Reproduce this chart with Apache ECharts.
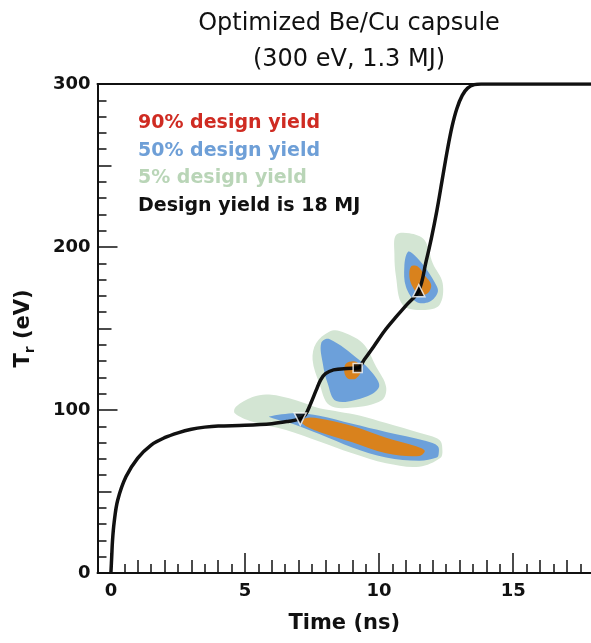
<!DOCTYPE html>
<html>
<head>
<meta charset="utf-8">
<script src="https://cdn.jsdelivr.net/npm/echarts@6/dist/echarts.min.js"></script>
<style>
html,body{margin:0;padding:0;background:#fff;}
#chart{width:591px;height:643px;}
</style>
</head>
<body>
<div id="chart"></div>
<script>
// ---- Data ----
const titleText = 'Optimized Be/Cu capsule\n(300 eV, 1.3 MJ)';
const xName = 'Time (ns)';
const legendLabels = ['90% design yield', '50% design yield', '5% design yield', 'Design yield is 18 MJ'];
const legendColors = ['#cf2b22', '#6e9fd7', '#b9d5b7', '#111111'];

const xMajorTicks = [0, 5, 10, 15];
const xMidTicks = [1, 2, 3, 4, 6, 7, 8, 9, 11, 12, 13, 14, 16, 17];
const xMinorTicks = [0.5, 1.5, 2.5, 3.5, 4.5, 5.5, 6.5, 7.5, 8.5, 9.5, 10.5, 11.5, 12.5, 13.5, 14.5, 15.5, 16.5, 17.5];
const yMajorTicks = [0, 100, 200, 300];

// drive temperature curve: time (ns) and Tr (eV)
const curveTime = [0, 0.03, 0.06, 0.12, 0.25, 0.56, 1.0, 1.5, 2.0, 2.5, 3.0, 3.5, 4.0, 5.0, 6.0, 6.6, 7.06, 7.25, 7.45, 7.65, 7.82, 8.0, 8.3, 8.8, 9.2, 9.45, 9.8, 10.2, 10.6, 11.0, 11.48, 11.75, 11.95, 12.15, 12.35, 12.55, 12.72, 12.9, 13.1, 13.3, 13.55, 13.8, 17.9];
const curveTemp = [0, 10, 20, 31, 44.5, 59, 70.5, 78.5, 83, 86, 88.2, 89.5, 90.2, 90.6, 91.6, 93, 94.5, 97, 104, 112, 118.5, 122.3, 124.6, 125.5, 125.7, 131, 139, 148.5, 156.5, 164, 173.2, 191, 205.5, 222, 241, 260, 274, 285, 293, 297.5, 299.6, 300, 300];

const markerDown = [[7.06, 94.5]];
const markerSquare = [[9.2, 125.7]];
const markerUp = [[11.48, 173.2]];

// yield regions: outlines in (time ns, Tr eV)
const green5Lower = [[4.66,102],[5.28,108],[5.9,109.5],[6.9,106],[7.77,101],[8.5,99],[9.3,96.5],[10.26,92],[11.5,86],[12.25,81.6],[12.36,75],[12.28,70.5],[11.5,65.2],[10.26,67.3],[9.0,73.4],[7.77,80.6],[6.53,87.7],[5.28,92.8],[4.62,98]];
const green5Middle = [[7.65,141],[8.14,148],[8.52,148.5],[9.39,141],[9.89,126.6],[10.26,114.3],[10.1,106],[9.0,101.5],[8.14,103],[7.77,116.4],[7.52,130.7]];
const green5Upper = [[10.63,207.4],[11.13,208.4],[11.69,204.3],[12.0,190],[12.37,177.7],[12.25,164.4],[11.63,161.3],[10.88,164.4],[10.63,181.8],[10.57,196]];
const blue50Lower = [[5.9,96],[6.9,98],[7.77,96.5],[9.0,91.5],[10.26,86.5],[11.75,81],[12.19,77.8],[12.22,73],[12.15,70.8],[11.5,68.8],[10.26,70.8],[9.0,77],[7.77,85.2],[6.9,90.8],[6.03,94.9]];
const blue50Middle = [[7.84,141],[8.14,143.5],[9.26,130.7],[9.76,122.5],[10.0,114.3],[9.51,108.2],[8.4,105.5],[8.08,116.4],[7.9,128.6]];
const blue50Upper = [[11.07,197],[11.32,195],[11.69,188],[12.06,178.7],[12.19,172.6],[11.88,166.4],[11.38,166.4],[11.0,175.6],[10.94,188]];
const orange90Lower = [[7.25,95],[7.77,94.8],[9.0,90.2],[10.26,83],[11.38,77.8],[11.7,75],[11.5,71.8],[10.26,73.5],[9.0,80.2],[7.77,86.5],[7.15,91.5]];
const orange90Middle = [[8.77,128.6],[9.14,129.6],[9.33,124.5],[9.14,119.4],[8.83,119.4],[8.7,123.5]];
const orange90Upper = [[11.19,188],[11.44,188],[11.69,182.8],[11.94,176.7],[11.81,171.6],[11.5,170.6],[11.25,175.6],[11.13,181.8]];

// ---- Chart ----
const FONT = 'DejaVu Sans';
const INK = '#111';
const GREEN = '#d3e5d3', BLUE = '#6ca0da', ORANGE = '#d9821d';

function region(name, pts, color, z) {
  return {
    type: 'custom', name, coordinateSystem: 'cartesian2d', xAxisIndex: 0, yAxisIndex: 0,
    data: pts, z, silent: true, clip: true,
    renderItem: function (params, api) {
      if (params.dataIndex !== 0) return null;
      const points = pts.map(p => api.coord(p));
      return { type: 'polygon', shape: { points, smooth: 0.35 }, style: { fill: color } };
    }
  };
}

const xBase = { type: 'value', min: -0.5, max: 17.9, position: 'bottom', splitLine: { show: false } };
const tickStyle = { color: INK, width: 1.5 };

const option = {
  backgroundColor: '#fff',
  animation: false,
  title: {
    text: titleText, left: 344, top: 1, textAlign: 'center',
    textStyle: { fontFamily: FONT, fontSize: 24, fontWeight: 'normal', color: '#111', lineHeight: 36 }
  },
  grid: { left: 97.5, right: 0, top: 84, bottom: 70, containLabel: false },
  xAxis: [
    Object.assign({}, xBase, {
      axisLine: { show: true, onZero: false, lineStyle: { color: INK, width: 2 } },
      axisTick: { show: true, inside: true, length: 20, customValues: xMajorTicks, lineStyle: tickStyle },
      axisLabel: { customValues: xMajorTicks, margin: 9, fontSize: 18, fontWeight: 'bold', fontFamily: FONT, color: INK },
      name: xName, nameLocation: 'middle', nameGap: 40,
      nameTextStyle: { fontSize: 21, fontWeight: 'bold', fontFamily: FONT, color: INK }
    }),
    Object.assign({}, xBase, {
      axisLine: { show: false, onZero: false },
      axisTick: { show: true, inside: true, length: 13, customValues: xMidTicks, lineStyle: tickStyle },
      axisLabel: { show: false, customValues: xMidTicks }
    }),
    Object.assign({}, xBase, {
      axisLine: { show: false, onZero: false },
      axisTick: { show: true, inside: true, length: 9, customValues: xMinorTicks, lineStyle: tickStyle },
      axisLabel: { show: false, customValues: xMinorTicks }
    }),
    Object.assign({}, xBase, {
      position: 'top',
      axisLine: { show: true, onZero: false, lineStyle: { color: INK, width: 2 } },
      axisTick: { show: false }, axisLabel: { show: false }
    })
  ],
  yAxis: [
    {
      type: 'value', min: 0, max: 300, interval: 100, position: 'left',
      axisLine: { show: true, onZero: false, lineStyle: { color: INK, width: 2 } },
      axisTick: { show: true, inside: true, length: 20, customValues: yMajorTicks, lineStyle: tickStyle },
      minorTick: { show: true, splitNumber: 10, length: 9, lineStyle: tickStyle },
      axisLabel: { customValues: yMajorTicks, margin: 7, fontSize: 18, fontWeight: 'bold', fontFamily: FONT, color: INK },
      splitLine: { show: false }, minorSplitLine: { show: false },
      name: '{t|T}{s|r}{t| (eV)}', nameLocation: 'middle', nameRotate: 90, nameGap: 60,
      nameTextStyle: {
        rich: {
          t: { fontSize: 21, fontWeight: 'bold', fontFamily: FONT, color: INK, lineHeight: 28 },
          s: { fontSize: 14, fontWeight: 'bold', fontFamily: FONT, color: INK, lineHeight: 28, verticalAlign: 'bottom' }
        }
      }
    },
    {
      type: 'value', min: 0, max: 300, interval: 50, position: 'left',
      axisLine: { show: false, onZero: false },
      axisTick: { show: true, inside: true, length: 14, lineStyle: tickStyle },
      axisLabel: { show: false }, splitLine: { show: false }
    }
  ],
  graphic: legendLabels.map((txt, i) => ({
    type: 'text', x: 138, y: 123 + i * 27.7, z: 100,
    style: { text: txt, fill: legendColors[i], fontSize: 19, fontWeight: 'bold', fontFamily: FONT, verticalAlign: 'middle' }
  })),
  series: [
    region('5% lower', green5Lower, GREEN, 1),
    region('5% middle', green5Middle, GREEN, 1),
    region('5% upper', green5Upper, GREEN, 1),
    region('50% lower', blue50Lower, BLUE, 2),
    region('50% middle', blue50Middle, BLUE, 2),
    region('50% upper', blue50Upper, BLUE, 2),
    region('90% lower', orange90Lower, ORANGE, 3),
    region('90% middle', orange90Middle, ORANGE, 3),
    region('90% upper', orange90Upper, ORANGE, 3),
    {
      type: 'line', name: 'Tr', xAxisIndex: 0, yAxisIndex: 0, z: 5,
      data: curveTime.map((t, i) => [t, curveTemp[i]]),
      showSymbol: false, smooth: 0.35,
      lineStyle: { color: INK, width: 3.5 }
    },
    { type: 'scatter', xAxisIndex: 0, yAxisIndex: 0, z: 10, data: markerDown, symbol: 'triangle', symbolRotate: 180, symbolSize: 12,
      itemStyle: { color: '#000', borderColor: '#fff', borderWidth: 1.5 } },
    { type: 'scatter', xAxisIndex: 0, yAxisIndex: 0, z: 10, data: markerSquare, symbol: 'rect', symbolSize: 9,
      itemStyle: { color: '#000', borderColor: '#fff', borderWidth: 1.5 } },
    { type: 'scatter', xAxisIndex: 0, yAxisIndex: 0, z: 10, data: markerUp, symbol: 'triangle', symbolSize: 12,
      itemStyle: { color: '#000', borderColor: '#fff', borderWidth: 1.5 } }
  ]
};

const chart = echarts.init(document.getElementById('chart'), null, { renderer: 'canvas' });
chart.setOption(option);
</script>
</body>
</html>
